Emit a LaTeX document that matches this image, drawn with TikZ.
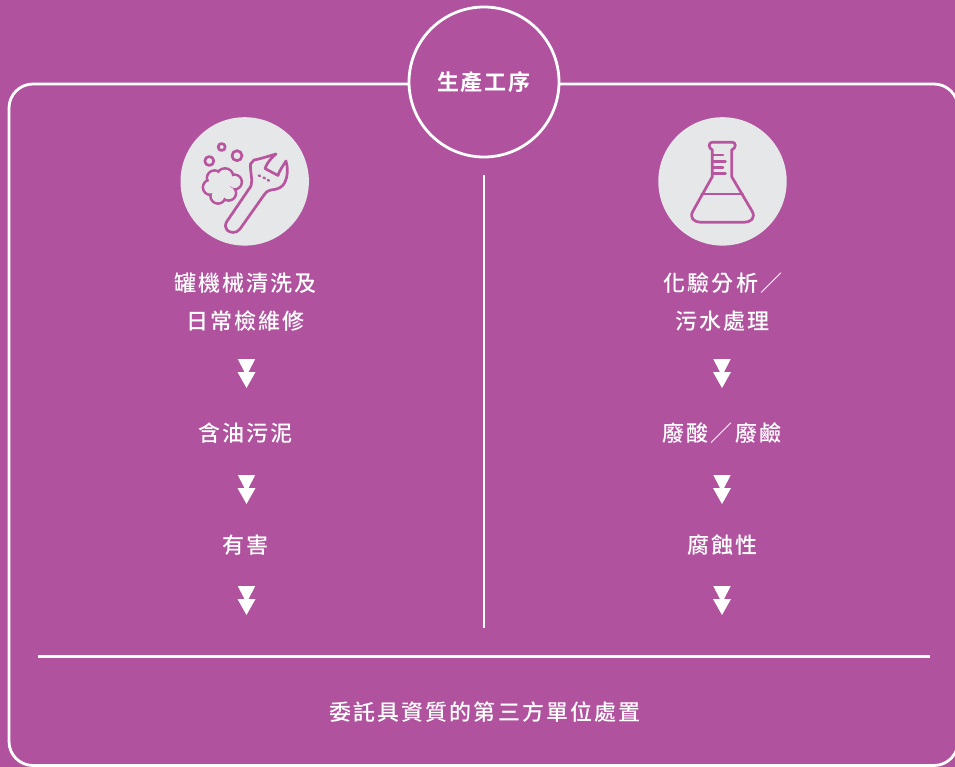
\documentclass[tikz,border=0pt]{standalone}
\usepackage{fontspec}
\newfontfamily\cjk[LetterSpace=9.5]{Noto Sans CJK TC Medium}
\newfontfamily\cjkbold[LetterSpace=9]{Noto Sans CJK TC Bold}
\definecolor{bgpurple}{HTML}{B0529E}
\definecolor{iconpink}{HTML}{B8559F}
\definecolor{discgrey}{HTML}{E6E7E8}
\begin{document}
\begin{tikzpicture}[x=1pt,y=-1pt]
		\tikzset{line/.style = {draw=white, line width=2.8pt}}
		\tikzset{label/.style = {text=white, font=\cjk\fontsize{22}{22}\selectfont, inner sep=0pt}}
		\tikzset{disc/.style = {shape=circle, fill=discgrey, minimum size=128.4pt, inner sep=0pt}}
		\tikzset{icon/.style = {draw=iconpink, line width=2.7pt, line join=round, line cap=round}}
		\tikzset{twotips/.pic = {
			\fill[white] (-8.7,0) -- (8.7,0) -- (0,17) -- cycle;
			\fill[white] (-9,13) -- (9,13) -- (0,29) -- cycle;
		}}

		\fill[bgpurple] (0,0) rectangle (955,767);
		\useasboundingbox (0,0) rectangle (955,767);

		\draw[line, rounded corners=24pt] (9,84) rectangle (958,765.5);

		\node[shape=circle, draw=white, line width=2.8pt, fill=bgpurple, minimum size=150pt, inner sep=0pt, text=white, font=\cjkbold\fontsize{22}{22}\selectfont] (title) at (484,82) {生產工序};

		\coordinate (mid_top) at (484,175);
		\coordinate (mid_bot) at (484,628);
		\draw[line] (mid_top)--(mid_bot);

		\coordinate (rule_l) at (38,656.5);
		\coordinate (rule_r) at (930,656.5);
		\draw[line] (rule_l)--(rule_r);

		\node[disc] (disc_L) at (244.7,181.4) {};
		\node[disc] (disc_R) at (722.5,181.4) {};

		\draw[icon] (209.3,161) circle (4.5);
		\draw[icon] (221.7,147) circle (3.5);
		\draw[icon] (237,155.7) circle (5);
		\foreach \x/\y/\r in {225/176.7/8.3, 234.5/182/7.3, 228.5/193/7.5, 218/196/7.5, 210.5/187.3/7.5, 214.5/178/7.5}
			\draw[icon] (\x,\y) circle (\r);
		\foreach \x/\y/\r in {225/176.7/7, 234.5/182/6, 228.5/193/6.2, 218/196/6.2, 210.5/187.3/6.2, 214.5/178/6.2, 221/186/9}
			\fill[discgrey] (\x,\y) circle (\r);

		\draw[icon] (226.5,222) -- (251,186) .. controls (253,180) and (250,172) .. (250.5,164)
			-- (254,160) .. controls (260,159) and (269,156) .. (276,154)
			.. controls (271,158) and (267,163) .. (265,168.5)
			-- (278,175.5) .. controls (279,171) and (283,166) .. (286,161)
			.. controls (288,168) and (288,176) .. (285,182)
			.. controls (283,187) and (278,189.5) .. (271,190)
			.. controls (267,191) and (265,193) .. (264,195)
			-- (240,229) .. controls (236,234) and (230,233) .. (227,230)
			.. controls (225,228) and (225,225) .. (226.5,222) -- cycle;
		\draw[icon, line width=2.4pt] (258.8,175.5)--(260,176);
		\draw[icon, line width=2.4pt] (263.6,177.6)--(264.8,178.2);
		\draw[icon, line width=2.4pt] (267.8,180)--(269,180.6);

		\draw[icon] (712.3,150) .. controls (708,148) and (708.5,142.3) .. (712,142.3)
			-- (732.5,142.3) .. controls (736,142.3) and (736.5,148) .. (731.7,150)
			-- (731.7,176.7) -- (752,211) .. controls (756,218) and (751,222.3) .. (744,222.3)
			-- (701,222.3) .. controls (694,222.3) and (689,218) .. (693,211)
			-- (712.3,176.7) -- cycle;
		\draw[icon] (701.7,194) -- (742.7,194);
		\draw[icon] (712.3,155) -- (723,155);
		\draw[icon] (712.3,161.7) -- (725.5,161.7);
		\draw[icon] (712.3,167.3) -- (723,167.3);
		\draw[icon] (712.3,173.3) -- (725.5,173.3);

		\node[label] (L_1a) at (245.5,283) {罐機械清洗及};
		\node[label] (L_1b) at (245.5,321) {日常檢維修};
		\node[label] (L_2) at (245.5,433) {含油污泥};
		\node[label] (L_3) at (245.5,545) {有害};

		\node[label] (R_1a) at (723,283) {化驗分析／};
		\node[label] (R_1b) at (722.5,321) {污水處理};
		\node[label] (R_2) at (722,433) {廢酸／廢鹼};
		\node[label] (R_3) at (722.5,545) {腐蝕性};

		\node[label] (bottom) at (485,712) {委託具資質的第三方單位處置};

		\pic (L_a1) at (246.5,359) {twotips};
		\pic (L_a2) at (246.5,475) {twotips};
		\pic (L_a3) at (246.5,586) {twotips};
		\pic (R_a1) at (722,359) {twotips};
		\pic (R_a2) at (722,475) {twotips};
		\pic (R_a3) at (722,586) {twotips};

	\end{tikzpicture}
\end{document}
